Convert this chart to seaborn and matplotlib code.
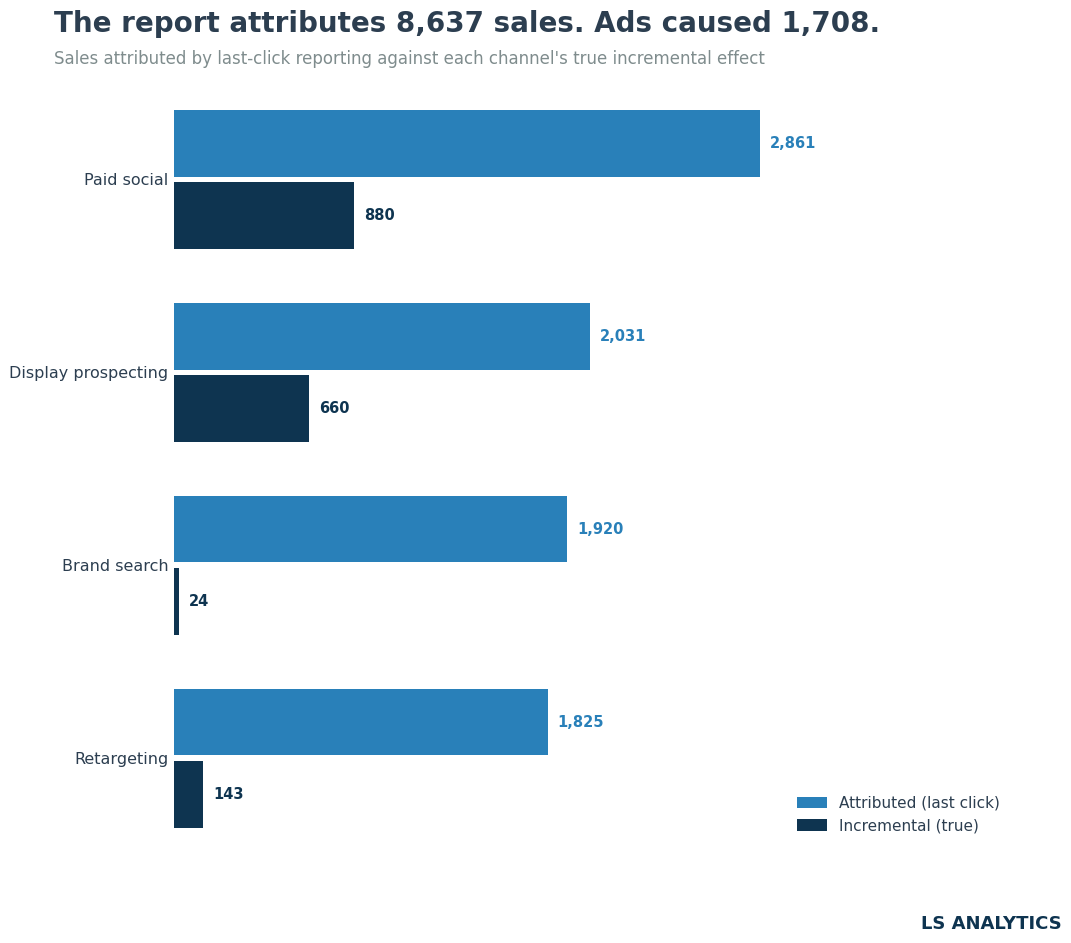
import pandas as pd
import matplotlib
matplotlib.use("Agg")
import matplotlib.pyplot as plt
import seaborn as sns

channels = ["Paid social", "Display prospecting", "Brand search", "Retargeting"]
attributed = [2861, 2031, 1920, 1825]
incremental = [880, 660, 24, 143]
series_names = ["Attributed (last click)", "Incremental (true)"]
colors = ["#2980b9", "#0e3450"]

df = pd.DataFrame({
    "channel": channels * 2,
    "sales": attributed + incremental,
    "series": [series_names[0]] * 4 + [series_names[1]] * 4,
})

sns.set_style("white")
plt.rcParams["font.family"] = ["DejaVu Sans"]

fig = plt.figure(figsize=(10.71, 9.43), dpi=100)
ax = fig.add_axes([0.1625, 0.0935, 0.78, 0.8185])

sns.barplot(data=df, x="sales", y="channel", hue="series", orient="h",
            palette=colors, width=0.75, gap=0.08, saturation=1,
            linewidth=0, ax=ax)

# value labels, coloured like their bars
for cont, col in zip(ax.containers, colors):
    ax.bar_label(cont, labels=[f"{int(v.get_width()):,}" for v in cont],
                 padding=7, color=col, fontsize=10.5, fontweight="bold")

ax.set_xlim(0, max(attributed) * 1.425)
ax.set_xlabel("")
ax.set_ylabel("")
ax.set_xticks([])
ax.tick_params(axis="y", length=0, pad=4, labelsize=11.5, labelcolor="#2c3e50")
sns.despine(ax=ax, left=True, bottom=True)

leg = ax.legend(loc="lower right", bbox_to_anchor=(1.011, 0.004), frameon=False,
                fontsize=11, handlelength=2.0, handleheight=0.8, borderaxespad=0.8)
for t in leg.get_texts():
    t.set_color("#2c3e50")

fig.text(0.05, 0.975, "The report attributes 8,637 sales. Ads caused 1,708.",
         fontsize=20, fontweight="bold", color="#2c3e50", va="center")
fig.text(0.05, 0.937, "Sales attributed by last-click reporting against each channel's true incremental effect",
         fontsize=12, color="#7f8c8d", va="center")
fig.text(0.991, 0.02, "LS ANALYTICS", fontsize=13, fontweight="bold",
         color="#0e3450", ha="right", va="center")

fig.savefig("out.png", dpi=100)
